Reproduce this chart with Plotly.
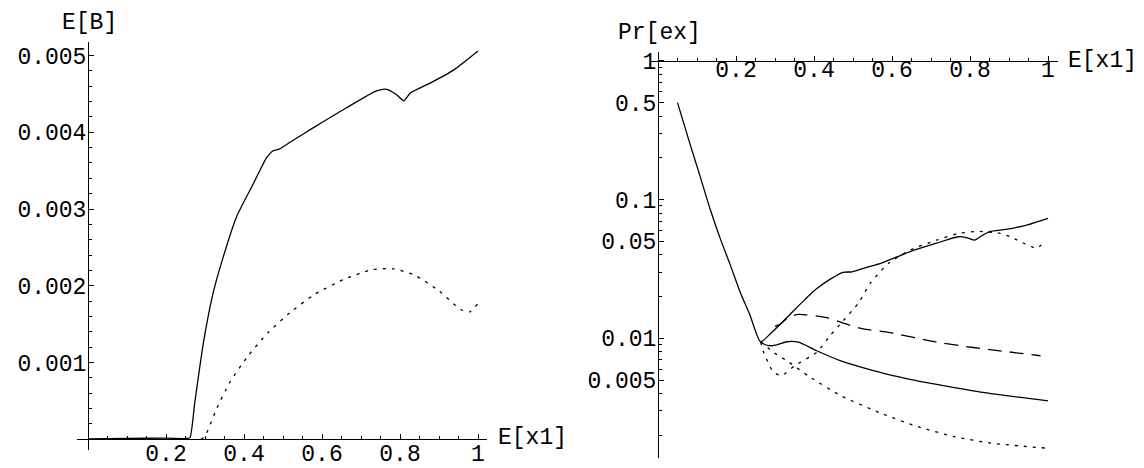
import math
import plotly.graph_objects as go

# ---------------- data: left panel, E[B] vs E[x1] ----------------
left_solid_x = [0.0, 0.1, 0.2, 0.255, 0.2615, 0.274, 0.296, 0.321, 0.347, 0.381, 0.424,
                0.458, 0.475, 0.49, 0.518, 0.578, 0.663, 0.74, 0.766, 0.791, 0.81, 0.826,
                0.877, 0.937, 1.0]
left_solid_y = [0.000005, 0.00001, 0.000015, 0.00001, 0.00002, 0.000487, 0.00126, 0.00191,
                0.00238, 0.0029, 0.00333, 0.00367, 0.00376, 0.00378, 0.00387, 0.00406,
                0.00432, 0.00454, 0.00456, 0.00449, 0.00441, 0.00451, 0.00464, 0.00481, 0.00506]

left_dot_x = [0.29, 0.3, 0.33, 0.364, 0.411, 0.462, 0.518, 0.582, 0.655, 0.728, 0.783,
              0.837, 0.901, 0.956, 0.979, 1.0]
left_dot_y = [0.0, 0.00004, 0.0004, 0.000745, 0.00109, 0.00139, 0.00165, 0.00189, 0.00208,
              0.00221, 0.00222, 0.00214, 0.00193, 0.00169, 0.00166, 0.00177]

# ---------------- data: right panel, Pr[ex] vs E[x1] (log) ----------------
upper_solid_x = [0.05, 0.082, 0.108, 0.133, 0.159, 0.185, 0.21, 0.236, 0.263, 0.291, 0.33,
                 0.377, 0.404, 0.44, 0.474, 0.498, 0.535, 0.573, 0.648, 0.714, 0.77, 0.793,
                 0.812, 0.826, 0.851, 0.892, 0.95, 1.0]
upper_solid_y = [0.5, 0.252, 0.147, 0.0867, 0.053, 0.034, 0.0218, 0.0147, 0.00946, 0.011,
                 0.0141, 0.0191, 0.0225, 0.0265, 0.0299, 0.0302, 0.0325, 0.0349, 0.0423,
                 0.0485, 0.054, 0.053, 0.051, 0.054, 0.0587, 0.061, 0.066, 0.0731]

lower_solid_x = [0.263, 0.275, 0.291, 0.31, 0.33, 0.36, 0.407, 0.467, 0.552, 0.621, 0.667,
                 0.76, 0.854, 1.0]
lower_solid_y = [0.00946, 0.009, 0.00885, 0.0091, 0.00946, 0.0094, 0.00815, 0.00692, 0.00587,
                 0.00526, 0.00493, 0.00442, 0.0040, 0.00355]

dashed_x = [0.3, 0.313, 0.335, 0.36, 0.433, 0.484, 0.526, 0.595, 0.714, 0.808, 0.981]
dashed_y = [0.0122, 0.01265, 0.0142, 0.0149, 0.0141, 0.01265, 0.0117, 0.011, 0.0094, 0.0086,
            0.0075]

dot_up_x = [0.263, 0.272, 0.296, 0.317, 0.351, 0.407, 0.441, 0.475, 0.514, 0.545, 0.592,
            0.648, 0.714, 0.77, 0.82, 0.877, 0.903, 0.932, 0.958, 0.971, 0.988]
dot_up_y = [0.00946, 0.0078, 0.00572, 0.0054, 0.00637, 0.00794, 0.01044, 0.0134, 0.018,
            0.0251, 0.0349, 0.0435, 0.051, 0.057, 0.059, 0.0572, 0.054, 0.0493, 0.0458,
            0.0446, 0.0485]

dot_low_x = [0.263, 0.3, 0.33, 0.39, 0.467, 0.573, 0.667, 0.76, 0.854, 0.995]
dot_low_y = [0.00946, 0.0078, 0.00692, 0.00526, 0.00389, 0.00288, 0.00231, 0.00196, 0.00176,
             0.00162]

# tick labels
left_x_ticks = [0.2, 0.4, 0.6, 0.8, 1.0]
left_x_text = ["0.2", "0.4", "0.6", "0.8", "1"]
left_y_ticks = [0.001, 0.002, 0.003, 0.004, 0.005]
left_y_text = ["0.001", "0.002", "0.003", "0.004", "0.005"]
right_y_ticks = [1, 0.5, 0.1, 0.05, 0.01, 0.005]
right_y_text = ["1", "0.5", "0.1", "0.05", "0.01", "0.005"]

# ---------------- layout geometry (pixels) ----------------
W, H = 1144, 468
FONT = "Liberation Mono, Courier New, monospace"
FS = 23


def fx(p):
    return p / W


def fy(p):
    return 1 - p / H


# left panel: x=0 at px 88, 390 px per unit; y=0 at py 441, 77.4 px per 0.001
LX0, LX1 = -0.028, 1.023
LY0, LY1 = -0.00014, 0.00518
l_xdom = [fx(88 + 390 * LX0), fx(88 + 390 * LX1)]
l_ydom = [fy(441 - 77400 * LY0), fy(441 - 77400 * LY1)]

# right panel: x=0 at px 658; log10(y)=0 at py 59.3, 140 px per decade
RX0, RX1 = -0.02, 1.026
RL0, RL1 = math.log10(0.00137), math.log10(1.16)
r_xdom = [fx(658 + 390 * RX0), fx(658 + 390 * RX1)]
r_ydom = [fy(59.3 - 140 * RL0), fy(59.3 - 140 * RL1)]

fig = go.Figure()

solid = dict(color="black", width=1.3, smoothing=0.6)
dotted = dict(color="black", width=1.3, dash="3px,6px", smoothing=0.6)
dashed = dict(color="black", width=1.3, dash="14px,8px", smoothing=0.6)

fig.add_trace(go.Scatter(x=left_solid_x, y=left_solid_y, mode="lines", line=solid,
                         xaxis="x", yaxis="y", line_shape="spline"))
fig.add_trace(go.Scatter(x=left_dot_x, y=left_dot_y, mode="lines", line=dotted,
                         xaxis="x", yaxis="y", line_shape="spline"))

for xs, ys, ln in [(upper_solid_x, upper_solid_y, solid),
                   (lower_solid_x, lower_solid_y, solid),
                   (dashed_x, dashed_y, dashed),
                   (dot_up_x, dot_up_y, dotted),
                   (dot_low_x, dot_low_y, dotted)]:
    fig.add_trace(go.Scatter(x=xs, y=ys, mode="lines", line=ln, xaxis="x2", yaxis="y2",
                             line_shape="spline"))

minor_x = [round(0.05 * k, 2) for k in range(1, 21) if k % 4 != 0]
minor_ly = [round(0.0002 * k, 4) for k in range(1, 26) if k % 5 != 0]
minor_ry = []
for dec in [0.001, 0.01, 0.1]:
    for m in [2, 3, 4, 6, 7, 8, 9]:
        v = m * dec
        if v > 0.00137:
            minor_ry.append(v)

axis_common = dict(showgrid=False, zeroline=False, showline=True, linecolor="black",
                   linewidth=1, ticks="inside", tickcolor="black", tickwidth=1,
                   tickfont=dict(family=FONT, size=FS, color="black"))

fig.update_layout(
    width=W, height=H,
    margin=dict(l=0, r=0, t=0, b=0),
    paper_bgcolor="white", plot_bgcolor="white",
    showlegend=False,
    xaxis=dict(domain=l_xdom, range=[LX0, LX1], anchor="free", position=fy(441),
               tickmode="array", tickvals=left_x_ticks, ticktext=left_x_text, ticklen=5,
               ticklabelstandoff=-7,
               minor=dict(tickmode="array", tickvals=minor_x, ticks="inside", ticklen=3,
                          tickcolor="black"),
               **axis_common),
    yaxis=dict(domain=l_ydom, range=[LY0, LY1], anchor="free", position=fx(88),
               tickmode="array", tickvals=left_y_ticks, ticktext=left_y_text, ticklen=5,
               ticklabelstandoff=-3,
               minor=dict(tickmode="array", tickvals=minor_ly, ticks="inside", ticklen=3,
                          tickcolor="black"),
               **axis_common),
    xaxis2=dict(domain=r_xdom, range=[RX0, RX1], anchor="free", position=fy(59.3),
                side="bottom",
                tickmode="array", tickvals=left_x_ticks, ticktext=left_x_text, ticklen=5,
                ticklabelstandoff=-12,
                minor=dict(tickmode="array", tickvals=minor_x, ticks="inside", ticklen=3,
                           tickcolor="black"),
                **axis_common),
    yaxis2=dict(domain=r_ydom, type="log", range=[RL0, RL1], anchor="free", position=fx(658),
                tickmode="array", tickvals=right_y_ticks, ticktext=right_y_text, ticklen=5,
                ticklabelstandoff=-3,
                minor=dict(tickmode="array", tickvals=minor_ry, ticks="inside", ticklen=3,
                           tickcolor="black"),
                **axis_common),
)

ann_font = dict(family=FONT, size=FS, color="black")
fig.add_annotation(text="E[B]", xref="paper", yref="paper", x=fx(89), y=fy(21),
                   xanchor="center", yanchor="middle", showarrow=False, font=ann_font)
fig.add_annotation(text="E[x1]", xref="paper", yref="paper", x=fx(496), y=fy(440),
                   xanchor="left", yanchor="middle", showarrow=False, font=ann_font)
fig.add_annotation(text="Pr[ex]", xref="paper", yref="paper", x=fx(659), y=fy(31),
                   xanchor="center", yanchor="middle", showarrow=False, font=ann_font)
fig.add_annotation(text="E[x1]", xref="paper", yref="paper", x=fx(1066), y=fy(59.5),
                   xanchor="left", yanchor="middle", showarrow=False, font=ann_font)

fig.write_html("out.html", config={"displayModeBar": False},
               post_script="document.body.style.margin='0';")
